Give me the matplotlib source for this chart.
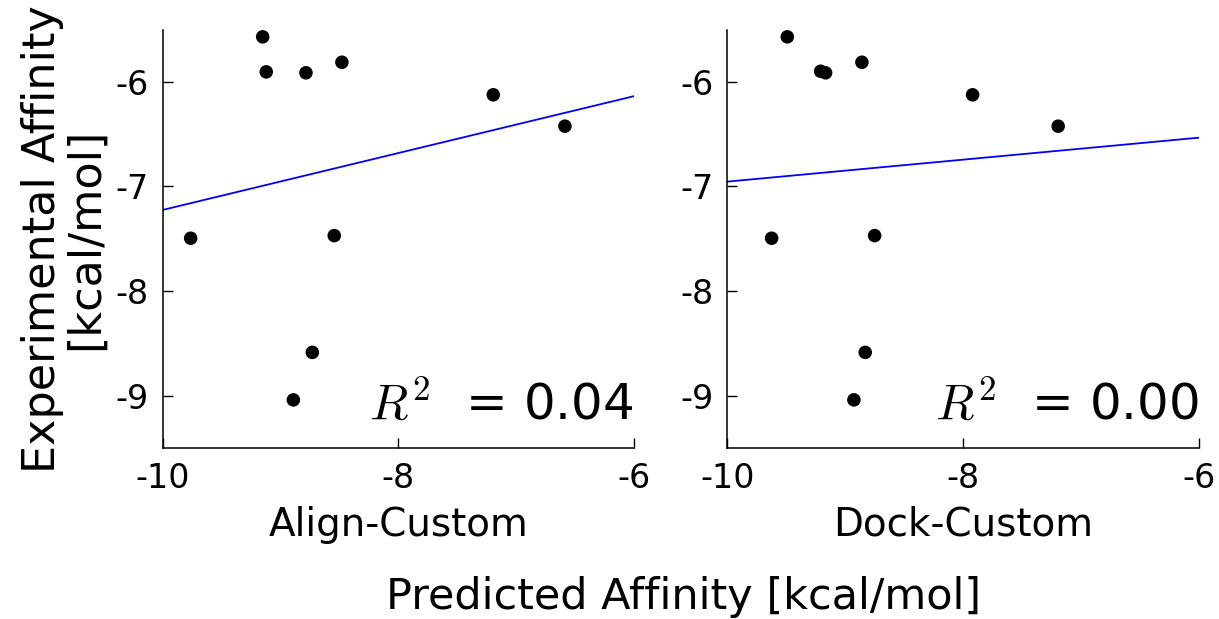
import numpy as np
import matplotlib
matplotlib.use("Agg")
import matplotlib.pyplot as plt

plt.rcParams['font.family'] = ['DejaVu Sans']
plt.rcParams['mathtext.fontset'] = 'cm'

# Experimental affinity (same for both panels)
exp_affinity = [-5.57, -5.905, -5.914, -5.813, -6.124, -6.424, -7.495, -7.47, -8.586, -9.04]

# Predicted affinity, Align-Custom
align_pred = [-9.15, -9.12, -8.783, -8.478, -7.194, -6.586, -9.761, -8.543, -8.729, -8.89]
# Predicted affinity, Dock-Custom
dock_pred = [-9.491, -9.208, -9.166, -8.858, -7.919, -7.193, -9.624, -8.75, -8.83, -8.926]
dock_exp = [-5.57, -5.899, -5.914, -5.813, -6.124, -6.424, -7.495, -7.47, -8.586, -9.04]

# Fit lines (value at x=-10 and x=-6)
fit_x = [-10, -6]
align_fit_y = [-7.225, -6.137]
dock_fit_y = [-6.954, -6.534]

panel_names = ["Align-Custom", "Dock-Custom"]
r2_values = ["0.04", "0.00"]
xticks = [-10, -8, -6]
yticks = [-6, -7, -8, -9]

W, H = 1219, 619
fig = plt.figure(figsize=(W / 100, H / 100), dpi=100)

ax_left = [162.5, 727.3]
ax_w = 471.5
ax_top, ax_bot = 29.5, 448.0

datasets = [(align_pred, exp_affinity, align_fit_y), (dock_pred, dock_exp, dock_fit_y)]

axes = []
for i, (xs, ys, fy) in enumerate(datasets):
    ax = fig.add_axes([ax_left[i] / W, 1 - ax_bot / H, ax_w / W, (ax_bot - ax_top) / H])
    axes.append(ax)
    ax.scatter(xs, ys, s=95, color='black', edgecolors='none', zorder=3)
    ax.plot(fit_x, fy, color='#0000ff', lw=1.3, zorder=2)
    ax.set_xlim(-10, -6)
    ax.set_ylim(-9.5, -5.5)
    ax.set_xticks(xticks)
    ax.set_yticks(yticks)
    ax.set_xticklabels([str(t) for t in xticks])
    ax.set_yticklabels([str(t) for t in yticks])
    for s in ['top', 'right']:
        ax.spines[s].set_visible(False)
    for s in ['left', 'bottom']:
        ax.spines[s].set_linewidth(1.1)
    ax.tick_params(direction='in', length=7, width=1, labelsize=24, pad=10,
                   top=False, right=False)
    ax.set_xlabel(panel_names[i], fontsize=28, labelpad=8)
    ax.text(1.0, 0.067, r"$R^2$  = " + r2_values[i], transform=ax.transAxes,
            ha='right', va='baseline', fontsize=36)

axes[0].set_ylabel("Experimental Affinity\n[kcal/mol]", fontsize=32, labelpad=6,
                   linespacing=1.0)
fig.text(684 / W, 1 - 597 / H, "Predicted Affinity [kcal/mol]", ha='center',
         va='center', fontsize=31)

fig.savefig("out.png", dpi=100, facecolor='white')
